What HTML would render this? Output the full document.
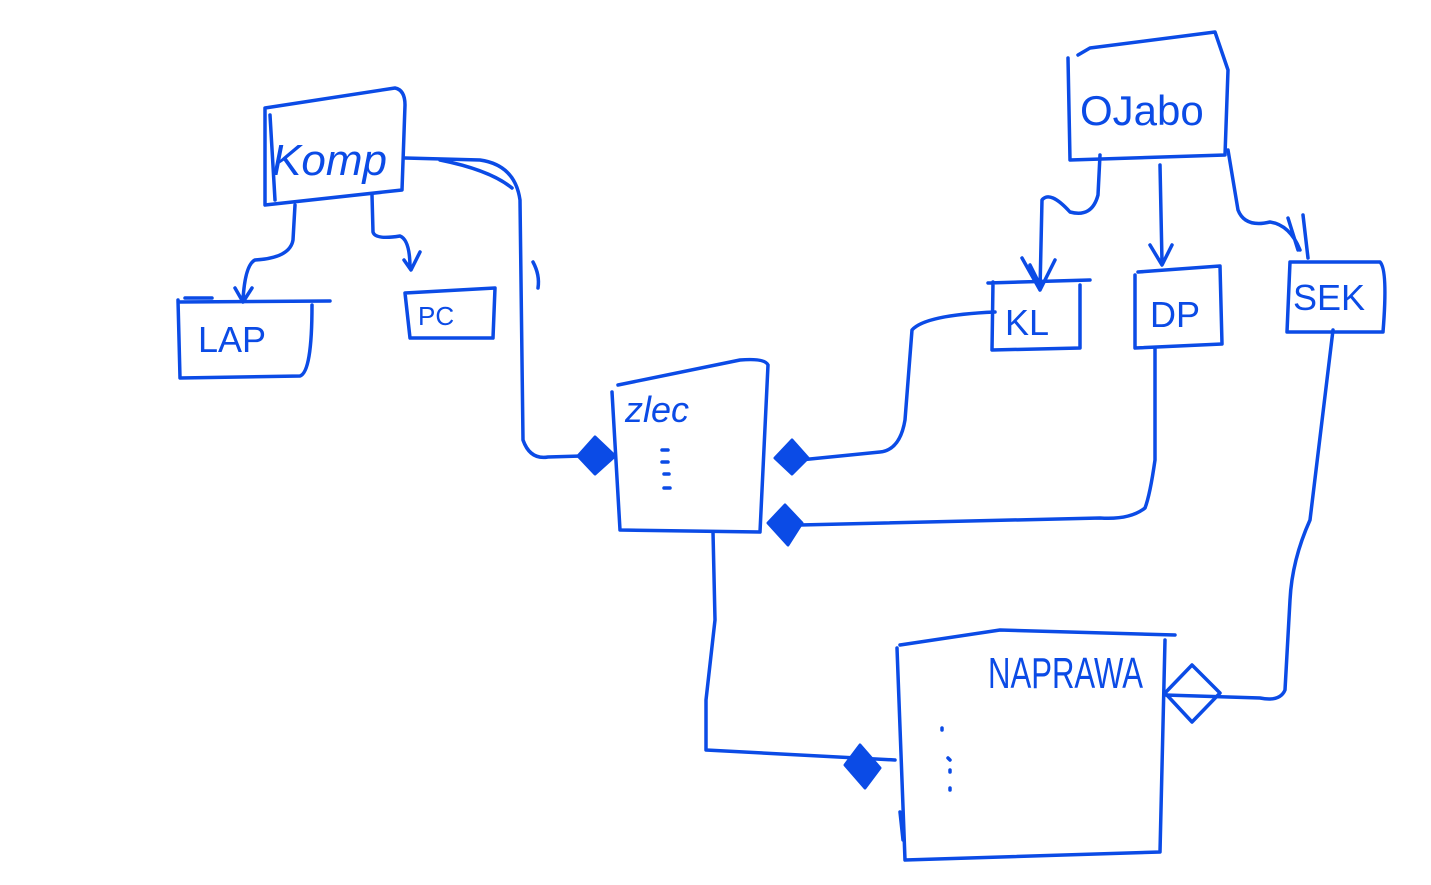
<!DOCTYPE html>
<html><head><meta charset="utf-8"><style>
html,body{margin:0;padding:0;background:#fff;width:1431px;height:885px;overflow:hidden}
svg{display:block}
text{font-family:"Liberation Sans",sans-serif;fill:#0b4be6}
</style></head><body>
<svg width="1431" height="885" viewBox="0 0 1431 885" xmlns="http://www.w3.org/2000/svg">
<g fill="none" stroke="#0b4be6" stroke-width="3.5" stroke-linecap="round" stroke-linejoin="round">
<path d="M265,108 L395,88 Q405,90 405,105 L402,190 L265,205 Z M270,115 L275,200"/>
<path d="M405,158 L480,160 Q515,165 520,200 L523,440 Q530,460 548,457 L615,455"/>
<path d="M440,160 Q490,170 512,188"/>
<path d="M533,262 Q540,275 538,288"/>
<path d="M295,205 L293,240 Q290,258 255,260 Q245,265 243,300 M235,288 L243,302 L252,288"/>
<path d="M372,195 L373,232 Q375,240 400,236 Q410,240 410,268 M404,260 L411,270 L420,252"/>
<path d="M178,302 L330,301 M178,300 L180,378 L300,376 Q312,372 312,305 M185,298 L212,298"/>
<path d="M405,293 L495,288 L493,338 L410,338 Z"/>
<path d="M612,392 L620,530 L760,532 L768,365 Q765,358 740,360 L618,385"/>
<path d="M662,450 L668,450 M662,462 L668,462 M664,474 L669,474 M664,488 L670,488"/>
<path d="M1068,58 L1070,160 L1225,155 L1228,70 L1215,32 L1090,48 L1078,55"/>
<path d="M1100,155 L1098,195 Q1092,218 1070,212 Q1050,190 1042,200 L1040,290 M1022,258 L1040,290 L1055,260 M1030,265 L1040,285"/>
<path d="M1160,165 L1162,262 M1150,245 L1162,265 L1172,245"/>
<path d="M1228,150 L1238,210 Q1245,228 1270,222 Q1290,225 1300,250 M1288,218 L1298,250 M1303,215 L1308,258"/>
<path d="M988,283 L1090,280 M993,282 L992,350 L1080,348 L1080,285"/>
<path d="M1138,272 L1220,266 L1222,344 L1135,348 L1135,275"/>
<path d="M1290,262 L1380,262 Q1388,270 1383,332 L1287,332 L1290,262"/>
<path d="M995,312 Q925,315 912,330 L905,420 Q900,450 880,452 L780,462"/>
<path d="M1155,348 L1155,460 Q1150,495 1145,508 Q1130,520 1100,518 L800,525"/>
<path d="M1333,330 L1310,520 Q1292,560 1290,600 L1285,690 Q1280,702 1260,698 L1165,695"/>
<path d="M713,532 L715,620 L706,700 L706,750 L895,760"/>
<path d="M897,648 L905,860 L1160,852 L1165,640 M900,645 L1000,630 L1175,635 M900,812 L903,840"/>
<path d="M942,728 L942,730 M948,758 L950,760 M950,770 L950,772 M950,788 L950,790"/>
<path d="M1165,693 L1192,665 L1220,693 L1192,722 Z"/>
</g>
<g fill="#0b4be6" stroke="#0b4be6" stroke-width="3" stroke-linejoin="round">
<path d="M578,456 L595,437 L615,456 L595,474 Z"/>
<path d="M775,458 L792,440 L808,458 L792,474 Z"/>
<path d="M768,523 L785,505 L802,523 L788,545 Z"/>
<path d="M845,765 L860,745 L880,768 L865,788 Z"/>
</g>
<text x="272" y="175" font-size="44" font-style="italic">Komp</text>
<text x="198" y="352" font-size="36">LAP</text>
<text x="418" y="325" font-size="26">PC</text>
<text x="625" y="422" font-size="36" font-style="italic">zlec</text>
<text x="1080" y="125" font-size="42">OJabo</text>
<text x="1005" y="335" font-size="36">KL</text>
<text x="1150" y="327" font-size="36">DP</text>
<text x="1293" y="310" font-size="36">SEK</text>
<text x="988" y="688" font-size="44" textLength="155" lengthAdjust="spacingAndGlyphs">NAPRAWA</text>
</svg>
</body></html>
